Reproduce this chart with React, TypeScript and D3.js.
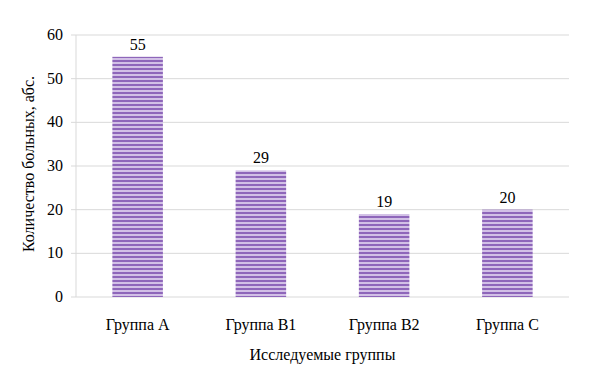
import React from "react";
import * as d3 from "d3";

const categories = ["Группа A", "Группа B1", "Группа B2", "Группа C"];
const values = [55, 29, 19, 20];
const yTicks = [0, 10, 20, 30, 40, 50, 60];
const yTitle = "Количество больных, абс.";
const xTitle = "Исследуемые группы";

export default function App() {
  const W = 600, H = 377;
  const left = 76, right = 569, top = 35, bottom = 297;
  const x = d3.scaleBand<string>().domain(categories).range([left, right]).paddingInner(0.59).paddingOuter(0.295);
  const y = d3.scaleLinear().domain([0, 60]).range([bottom, top]);
  const font = "Liberation Serif, Tinos, DejaVu Serif, Times New Roman, serif";
  const ts = { fontFamily: font, fontSize: 16, fill: "#000" } as const;
  return (
    <svg width={W} height={H} style={{ position: "absolute", left: 0, top: 0, background: "#fff" }}>
      <defs>
        <pattern id="stripes" patternUnits="userSpaceOnUse" width="8" height="4">
          <rect width="8" height="4" fill="#d2c0e6" />
          <rect width="8" height="2" fill="#8e66ba" />
        </pattern>
      </defs>
      {yTicks.map((t) => (
        <g key={t}>
          <line x1={left - 5} x2={right} y1={y(t)} y2={y(t)} stroke="#d9d9d9" strokeWidth={1} />
          <text x={left - 13} y={y(t) + 5} textAnchor="end" style={ts}>{t}</text>
        </g>
      ))}
      <line x1={left} x2={left} y1={top} y2={bottom} stroke="#d9d9d9" />
      {categories.map((c, i) => (
        <g key={c}>
          <rect x={x(c)} y={y(values[i])} width={x.bandwidth()} height={bottom - y(values[i])} fill="url(#stripes)" />
          <text x={(x(c) as number) + x.bandwidth() / 2} y={y(values[i]) - 7} textAnchor="middle" style={ts}>{values[i]}</text>
          <text x={(x(c) as number) + x.bandwidth() / 2} y={330} textAnchor="middle" style={ts}>{c}</text>
        </g>
      ))}
      <text transform={`translate(34,${(top + bottom) / 2 - 2}) rotate(-90)`} textAnchor="middle" style={ts}>{yTitle}</text>
      <text x={(left + right) / 2} y={360} textAnchor="middle" style={ts}>{xTitle}</text>
    </svg>
  );
}
